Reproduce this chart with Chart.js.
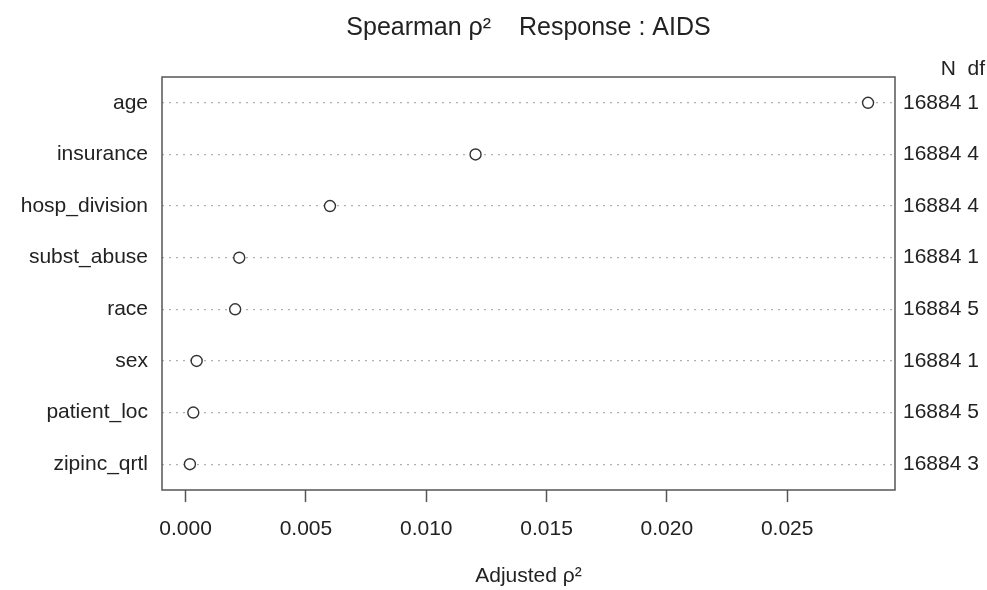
<!DOCTYPE html>
<html>
<head>
<meta charset="utf-8">
<script src="https://cdn.jsdelivr.net/npm/chart.js@4/dist/chart.umd.min.js"></script>
<style>
  html, body { margin: 0; padding: 0; background: #fff; }
  canvas { display: block; }
</style>
</head>
<body>
<canvas id="chart" width="987" height="590"></canvas>
<script>
// Predictors, top to bottom
const categories = ['age', 'insurance', 'hosp_division', 'subst_abuse', 'race', 'sex', 'patient_loc', 'zipinc_qrtl'];
// Adjusted Spearman rho^2 for each predictor
const rho2 = [0.02836, 0.01205, 0.0060, 0.00223, 0.00206, 0.00046, 0.00032, 0.00018];
// Sample size and degrees of freedom shown in the right margin
const nObs = [16884, 16884, 16884, 16884, 16884, 16884, 16884, 16884];
const dfs = [1, 4, 4, 1, 5, 1, 5, 3];
// Bottom axis tick values
const xTicks = [0, 0.005, 0.010, 0.015, 0.020, 0.025];

const FONT = '"Liberation Sans", Arial, Helvetica, sans-serif';
const INK = '#222';
const FRAME = '#555';

const rightLabels = nObs.map((n, i) => n + ' ' + dfs[i]);

// Frame around the plotting region plus the "N  df" header
const framePlugin = {
  id: 'frame',
  afterDraw(chart) {
    const { ctx, chartArea: a } = chart;
    ctx.save();
    ctx.strokeStyle = FRAME;
    ctx.lineWidth = 1.5;
    ctx.strokeRect(a.left, a.top, a.right - a.left, a.bottom - a.top);
    ctx.fillStyle = INK;
    ctx.font = '21px ' + FONT;
    ctx.textAlign = 'right';
    ctx.textBaseline = 'middle';
    ctx.fillText('N  df', chart.scales.y2.right - 2, a.top - 8);
    ctx.restore();
  }
};

new Chart(document.getElementById('chart'), {
  type: 'line',
  data: {
    labels: categories,
    datasets: [{
      data: rho2,
      showLine: false,
      pointStyle: 'circle',
      pointRadius: 5.5,
      pointHoverRadius: 5.5,
      pointBorderWidth: 1.4,
      pointBorderColor: '#333',
      pointBackgroundColor: '#fff'
    }]
  },
  options: {
    indexAxis: 'y',
    responsive: false,
    animation: false,
    events: [],
    layout: { padding: 0 },
    plugins: {
      legend: { display: false },
      tooltip: { enabled: false },
      title: {
        display: true,
        fullSize: false,
        text: 'Spearman \u03c1\u00b2    Response : AIDS',
        color: INK,
        font: { family: FONT, size: 25, weight: 'normal', lineHeight: 1.2 },
        padding: { top: 13, bottom: 34 }
      }
    },
    scales: {
      x: {
        type: 'linear',
        position: 'bottom',
        min: -0.00098,
        max: 0.02948,
        afterBuildTicks: s => { s.ticks = xTicks.map(v => ({ value: v })); },
        afterFit: s => { s.height = 100; },
        ticks: {
          color: INK,
          font: { family: FONT, size: 21 },
          padding: 15,
          callback: v => Number(v).toFixed(3)
        },
        grid: {
          drawOnChartArea: false,
          drawTicks: true,
          tickLength: 12,
          color: FRAME,
          tickColor: FRAME,
          tickWidth: 1.5
        },
        border: { display: false },
        title: {
          display: true,
          text: 'Adjusted \u03c1\u00b2',
          color: INK,
          font: { family: FONT, size: 21, lineHeight: 1.2 },
          padding: { top: 0, bottom: 1 }
        }
      },
      y: {
        type: 'category',
        position: 'left',
        offset: true,
        afterFit: s => { s.width = 162; },
        ticks: {
          color: INK,
          font: { family: FONT, size: 21 },
          padding: 14
        },
        grid: {
          drawOnChartArea: true,
          drawTicks: false,
          offset: false,
          color: '#b0b0b0',
          lineWidth: 1.3
        },
        border: { display: false, dash: [2, 5] }
      },
      y2: {
        type: 'category',
        position: 'right',
        labels: rightLabels,
        offset: true,
        afterFit: s => { s.width = 92; },
        ticks: {
          color: INK,
          font: { family: FONT, size: 21 },
          padding: 8
        },
        grid: { display: false, drawTicks: false },
        border: { display: false }
      }
    }
  },
  plugins: [framePlugin]
});
</script>
</body>
</html>
